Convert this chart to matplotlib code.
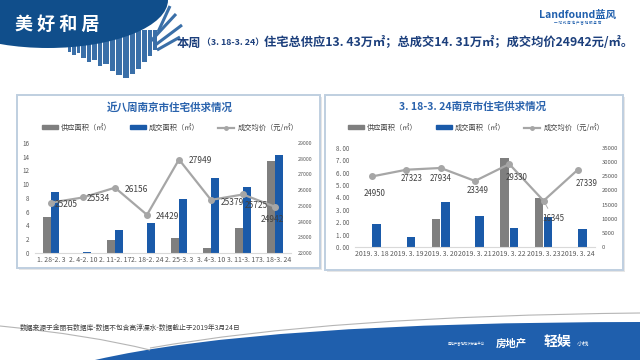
import matplotlib
matplotlib.use('Agg')
import matplotlib.pyplot as plt
import matplotlib.patches as mpatches
from matplotlib.lines import Line2D
from matplotlib.path import Path
import numpy as np

plt.rcParams['font.family'] = ['Noto Sans CJK SC', 'DejaVu Sans']

# left chart: last eight weeks
weeks = ['1. 28-2. 3', '2. 4-2. 10', '2. 11-2. 17', '2. 18-2. 24',
         '2. 25-3. 3', '3. 4-3. 10', '3. 11-3. 17', '3. 18-3. 24']
week_supply = [5.2, 0, 1.9, 0, 2.2, 0.8, 3.6, 13.43]
week_deal = [8.9, 0.2, 3.4, 4.4, 7.8, 10.9, 9.6, 14.31]
week_price = [25205, 25534, 26156, 24429, 27949, 25379, 25725, 24942]

# right chart: days of 3.18-3.24
days = ['2019. 3. 18', '2019. 3. 19', '2019. 3. 20', '2019. 3. 21',
        '2019. 3. 22', '2019. 3. 23', '2019. 3. 24']
day_supply = [0, 0, 2.26, 0, 7.2, 3.94, 0]
day_deal = [1.89, 0.84, 3.67, 2.48, 1.51, 2.43, 1.46]
day_price = [24950, 27323, 27934, 23349, 29330, 16345, 27339]

GRAY = '#7f7f7f'
BLUE = '#1a5aa9'
LINE = '#a6a6a6'
TITLE = '#2a63ad'
TICK = '#595959'

W, H = 640, 360
fig = plt.figure(figsize=(6.4, 3.6), dpi=100)

# background layer in pixel coordinates
bg = fig.add_axes([0, 0, 1, 1], zorder=0)
bg.set_xlim(0, W)
bg.set_ylim(H, 0)
bg.axis('off')

# top-left banner with skyline
for bx, bw, by in [(68, 3, 52), (72, 4, 55), (77, 3, 53), (81, 5, 58), (87, 4, 62),
                   (92, 5, 60), (98, 4, 66), (103, 6, 64), (110, 5, 71), (116, 6, 75),
                   (123, 6, 78), (130, 5, 74), (136, 5, 69), (142, 5, 62), (148, 4, 56),
                   (153, 4, 50)]:
    bg.add_patch(mpatches.Rectangle((bx, 30), bw, by - 30, color='#3a6fa8', lw=0))
for x0, y0, x1, y1 in [(150, 42, 176, 14), (154, 46, 182, 25), (157, 50, 180, 37), (158, 32, 170, 6)]:
    bg.plot([x0, x1], [y0, y1], color='#3a6fa8', lw=2.2, solid_capstyle='butt')
bg.add_patch(mpatches.Ellipse((48, 0), 240, 96, color='#104e8b', lw=0))
bg.text(15, 24, '美 好 和 居', color='white', fontsize=13, fontweight='bold', va='center', ha='left')

# logo
bg.text(578, 15, 'Landfound蓝风', color='#1f5fad', fontsize=7.5, fontweight='bold',
        fontstyle='italic', ha='center', va='center')
bg.text(578, 23, '一 站 式 房 地 产 营 销 服 务 商', color='#1f5fad', fontsize=2.6, ha='center', va='center')

# headline, built from three pieces
fig.canvas.draw()
renderer = fig.canvas.get_renderer()
hx = 177
for part, size in [('本周', 8.8), ('（3. 18-3. 24）', 6.4),
                   ('住宅总供应13. 43万㎡；总成交14. 31万㎡；成交均价24942元/㎡。', 8.8)]:
    t = bg.text(hx, 43, part, color='#1c3f7c', fontsize=size, fontweight='bold',
                ha='left', va='center')
    hx += t.get_window_extent(renderer).width

# chart frames
for fx, fy, fw, fh in [(17, 95, 303, 173), (325, 95, 298, 175)]:
    bg.add_patch(mpatches.Rectangle((fx + 1.5, fy + 1.5), fw, fh, fc='#e6e6e6', ec='none'))
    bg.add_patch(mpatches.Rectangle((fx, fy), fw, fh, fc='white', ec='#bfcfe0', lw=1.4))

# footer swoosh
verts = [(95, 360), (260, 322), (640, 322), (640, 360), (95, 360)]
codes = [Path.MOVETO, Path.CURVE3, Path.CURVE3, Path.LINETO, Path.CLOSEPOLY]
bg.add_patch(mpatches.PathPatch(Path(verts, codes), fc='#1f5fad', ec='none'))
bg.add_patch(mpatches.PathPatch(Path([(150, 348), (330, 316), (640, 313)],
                                     [Path.MOVETO, Path.CURVE3, Path.CURVE3]),
                                fc='none', ec='#b5b5b5', lw=0.8))
bg.add_patch(mpatches.PathPatch(Path([(0, 326), (90, 335), (150, 350)],
                                     [Path.MOVETO, Path.CURVE3, Path.CURVE3]),
                                fc='none', ec='#b5b5b5', lw=0.8))
bg.text(20, 328, '数据来源于金丽石数据库-数据不包含高淳溧水-数据截止于2019年3月24日',
        color='#404040', fontsize=4.9, ha='left', va='center')
bg.text(496, 344, '房地产', color='white', fontsize=7.5, fontweight='bold', ha='left', va='center')
bg.text(544, 342, '轻娱', color='white', fontsize=10, fontweight='bold', ha='left', va='center')
bg.text(577, 344, '小栈', color='white', fontsize=4.5, ha='left', va='center')
bg.text(448, 344, '房地产营销知识分享平台', color='white', fontsize=2.4, ha='left', va='center')


def rect(x0, y0, x1, y1):
    return [x0 / W, 1 - y1 / H, (x1 - x0) / W, (y1 - y0) / H]


def chart(box, cats, supply, deal, price, ylim, yticks, ylabels, y2lim, y2ticks,
          labels, title, title_xy, legend_xy, cat_size, y_size, y2_size, lab_size, colsp):
    ax = fig.add_axes(rect(*box), zorder=2)
    ax.patch.set_alpha(0)
    x = np.arange(len(cats))
    ax.bar(x - 0.135, supply, width=0.25, color=GRAY, zorder=2)
    ax.bar(x + 0.135, deal, width=0.25, color=BLUE, zorder=2)
    ax.set_xlim(-0.5, len(cats) - 0.5)
    ax.set_ylim(*ylim)
    ax.set_yticks(yticks)
    ax.set_yticklabels(ylabels)
    ax.set_xticks(x)
    ax.set_xticklabels(cats)
    ax.tick_params(axis='x', length=0, labelsize=cat_size, colors=TICK, pad=2)
    ax.tick_params(axis='y', length=0, labelsize=y_size, colors=TICK, pad=4)
    for s in ['top', 'right', 'left']:
        ax.spines[s].set_visible(False)
    ax.spines['bottom'].set_color('#d9d9d9')
    ax.spines['bottom'].set_linewidth(0.8)

    ax2 = ax.twinx()
    ax2.plot(x, price, color=LINE, lw=1.6, marker='o', ms=4, zorder=3)
    ax2.set_ylim(*y2lim)
    ax2.set_yticks(y2ticks)
    ax2.tick_params(axis='y', length=0, labelsize=y2_size, colors=TICK, pad=5)
    for s in ax2.spines.values():
        s.set_visible(False)
    for xi, p, (ha, dx, dy, leader) in zip(x, price, labels):
        ax2.annotate(str(p), (xi, p), xytext=(dx, dy), textcoords='offset points',
                     ha=ha, va='center', fontsize=lab_size, color='#404040',
                     arrowprops=dict(arrowstyle='-', color='#a6a6a6', lw=0.6) if leader else None)

    fig.text(title_xy[0] / W, 1 - title_xy[1] / H, title, color=TITLE, fontsize=7.6,
             fontweight='bold', ha='center', va='center')
    handles = [mpatches.Patch(color=GRAY), mpatches.Patch(color=BLUE),
               Line2D([], [], color=LINE, lw=1.6, marker='o', ms=2.5)]
    fig.legend(handles, ['供应面积（㎡）', '成交面积（㎡）', '成交均价（元/㎡）'],
               loc='center', bbox_to_anchor=(legend_xy[0] / W, 1 - legend_xy[1] / H),
               ncol=3, frameon=False, fontsize=5.2, handlelength=2.2, handleheight=0.45,
               columnspacing=colsp, handletextpad=0.4, labelcolor='#404040')


chart((35, 143, 291, 253), weeks, week_supply, week_deal, week_price,
      (0, 16), list(range(0, 17, 2)), [str(v) for v in range(0, 17, 2)],
      (22000, 29000), list(range(22000, 29001, 1000)),
      [('left', 3, -1.5, False), ('left', 3, -1, False), ('left', 7, -1, False),
       ('left', 6, -1, False), ('left', 7, -1, False), ('left', 7, -2, False),
       ('left', 1, -8, False), ('center', -2, -9, False)],
      '近八周南京市住宅供求情况', (170, 107), (170, 128), 5.0, 4.5, 3.8, 6.0, 2.6)

chart((355, 148, 595, 247), days, day_supply, day_deal, day_price,
      (0, 8), list(range(0, 9)), ['%d. 00' % v for v in range(0, 9)],
      (0, 35000), list(range(0, 35001, 5000)),
      [('center', 2, -12, False), ('center', 4, -6.5, False), ('center', 0, -7.5, False),
       ('center', 2, -7, False), ('center', 5, -10, False), ('center', 7, -12.5, True),
       ('center', 6, -10, False)],
      '3. 18-3. 24南京市住宅供求情况', (473, 107), (476, 128), 5.0, 4.5, 4.3, 5.7, 2.6)

fig.savefig('out.png', dpi=100)
